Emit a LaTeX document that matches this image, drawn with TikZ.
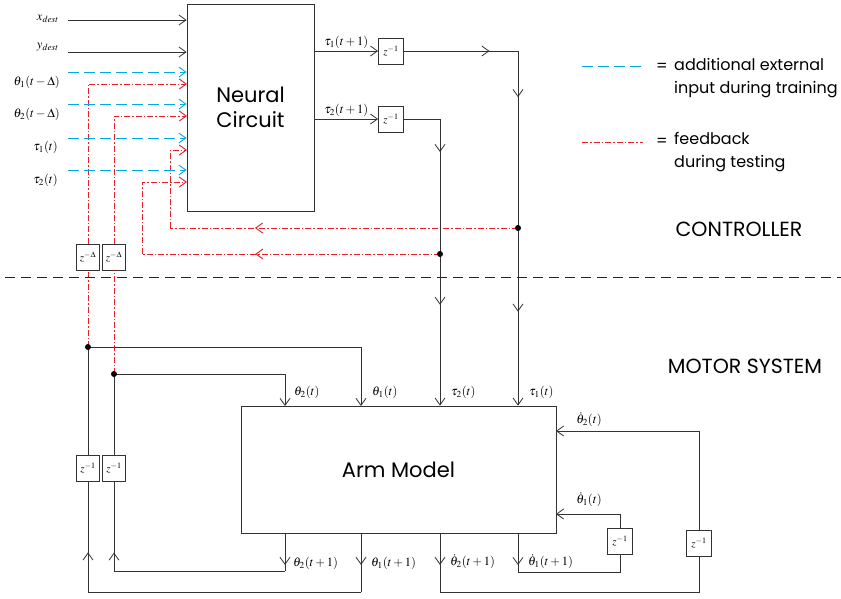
\documentclass[tikz,border=0pt]{standalone}
\usepackage{mathptmx}
\usepackage{fontspec}
\setmainfont{Poppins}
\usetikzlibrary{arrows.meta,decorations.markings}
\definecolor{trainblue}{RGB}{0,170,235}
\definecolor{testred}{RGB}{232,30,40}
\begin{document}
\begin{tikzpicture}[x=1pt,y=-1pt,
  >={Straight Barb[length=7pt,width=10pt]},
  block/.style={draw=black!80,line width=0.8pt,align=center,
    font=\fontsize{21}{25}\selectfont},
  delay/.style={draw=black!80,line width=0.8pt,fill=white,inner sep=0pt,
    minimum width=25pt,minimum height=26pt,font=\fontsize{11}{13}\selectfont},
  flow/.style={draw=black!80,line width=0.8pt},
  train/.style={draw=trainblue,color=trainblue,line width=0.9pt,
    dash pattern=on 11pt off 5pt},
  fb/.style={draw=testred,color=testred,line width=0.9pt,
    dash pattern=on 6pt off 2pt on 1.5pt off 2pt},
  lab/.style={font=\fontsize{12.5}{14}\selectfont,inner sep=1pt},
  legend/.style={font=\fontsize{16}{23}\selectfont,inner sep=2pt},
  region/.style={font=\fontsize{20.5}{24}\selectfont},
  arr at/.style={postaction={decorate,decoration={markings,
    mark=at position #1 with {\arrow{>}}}}}]
\useasboundingbox (0,0) rectangle (841,598);
% blocks
\node[block,minimum width=127pt,minimum height=207pt] (nc) at (250.5,107.5)
  {Neural\\Circuit};
\node[block,minimum width=315pt,minimum height=127pt] (arm) at (398.5,469.5)
  {Arm Model};
% delays
\node[delay] (d1) at (391,51) {$z^{-1}$};
\node[delay] (d2) at (391,119) {$z^{-1}$};
\node[delay,minimum width=23pt] (dA) at (88,257) {$z^{-\Delta}$};
\node[delay,minimum width=23pt] (dB) at (114,257) {$z^{-\Delta}$};
\node[delay,minimum width=23pt] (dC) at (88,468) {$z^{-1}$};
\node[delay,minimum width=23pt] (dD) at (114,468) {$z^{-1}$};
\node[delay] (dE) at (620,541) {$z^{-1}$};
\node[delay] (dF) at (699,543) {$z^{-1}$};
% points
\coordinate (xd) at (68,20);
\coordinate (yd) at (68,52);
\coordinate (fb1) at (187,84);
\coordinate (fb2) at (187,116);
\coordinate (fb3) at (187,150);
\coordinate (fb4) at (187,182);
\coordinate (t1c) at (518,51);
\coordinate (t2c) at (440,119);
\coordinate (dotT1) at (518,228);
\coordinate (dotT2) at (440,254);
\coordinate (fc1) at (170,228);
\coordinate (fc2) at (142,254);
\coordinate (dot1) at (88,347);
\coordinate (dot2) at (114,374);
\coordinate (th2in) at (285,406);
\coordinate (th1in) at (361,406);
\coordinate (th2out) at (285,533);
\coordinate (th1out) at (361,533);
\coordinate (td2out) at (440,533);
\coordinate (td1out) at (518,533);
\coordinate (c2) at (285,571);
\coordinate (c1) at (361,592);
\coordinate (c3) at (440,592);
\coordinate (c4) at (518,572);
\coordinate (td2in) at (556,431);
\coordinate (td1in) at (556,514);
\coordinate (sepL) at (5,277);
\coordinate (sepR) at (841,277);
% feedback during testing
\draw[fb,arr at=0.756] (dotT1) -- (fc1);
\draw[fb,->] (fc1) |- (fb3);
\draw[fb,arr at=0.62] (dotT2) -- (fc2);
\draw[fb,->] (fc2) |- (fb4);
\draw[fb] (dot1) -- (dA);
\draw[fb,->] (dA) |- (fb1);
\draw[fb] (dot2) -- (dB);
\draw[fb,->] (dB) |- (fb2);
% inputs of the neural circuit
\draw[flow,->] (xd) -- (xd -| nc.west);
\draw[flow,->] (yd) -- (yd -| nc.west);
\foreach \yy [count=\i] in {72,104,138,170} {
  \coordinate (tr\i) at (68,\yy);
  \draw[train,->] (tr\i) -- (tr\i -| nc.west);
}
\node[lab,anchor=east] at (60,19) {$x_{dest}$};
\node[lab,anchor=east] at (60,47) {$y_{dest}$};
\node[lab,anchor=east] at (61,82) {$\theta_1(t-\Delta)$};
\node[lab,anchor=east] at (61,114) {$\theta_2(t-\Delta)$};
\node[lab,anchor=east] at (59,147) {$\tau_1(t)$};
\node[lab,anchor=east] at (59,180) {$\tau_2(t)$};
% controller outputs
\draw[flow,->] (nc.east |- d1) -- node[lab,above=1pt] {$\tau_1(t+1)$} (d1);
\draw[flow,->] (nc.east |- d2) -- node[lab,above=1pt] {$\tau_2(t+1)$} (d2);
\draw[flow,arr at=0.75] (d1) -- (t1c);
\draw[flow,->,arr at=0.13,arr at=0.735] (t1c) -- (t1c |- arm.north);
\draw[flow] (d2) -- (t2c);
\draw[flow,->,arr at=0.115,arr at=0.648] (t2c) -- (t2c |- arm.north);
% arm inputs
\draw[flow,->] (dot1) -| (th1in);
\draw[flow,->] (dot2) -| (th2in);
\node[lab,anchor=west] at (293,392) {$\theta_2(t)$};
\node[lab,anchor=west] at (371,392) {$\theta_1(t)$};
\node[lab,anchor=west] at (450,392) {$\tau_2(t)$};
\node[lab,anchor=west] at (528,392) {$\tau_1(t)$};
% arm outputs
\draw[flow,arr at=0.84] (th2out) -- (c2);
\draw[flow,arr at=0.727] (c2) -| (dD);
\draw[flow] (dD) -- (dot2);
\draw[flow,arr at=0.54] (th1out) -- (c1);
\draw[flow,arr at=0.815] (c1) -| (dC);
\draw[flow] (dC) -- (dot1);
\draw[flow,arr at=0.54] (td2out) -- (c3);
\draw[flow] (c3) -| (dF);
\draw[flow,->] (dF) |- (td2in);
\draw[flow,arr at=0.82] (td1out) -- (c4);
\draw[flow] (c4) -| (dE);
\draw[flow,->] (dE) |- (td1in);
\node[lab,anchor=west] at (292,563) {$\theta_2(t+1)$};
\node[lab,anchor=west] at (370,563) {$\theta_1(t+1)$};
\node[lab,anchor=west] at (449,562) {$\dot\theta_2(t+1)$};
\node[lab,anchor=west] at (527,562) {$\dot\theta_1(t+1)$};
\node[lab] at (589,420) {$\dot\theta_2(t)$};
\node[lab] at (589,500) {$\dot\theta_1(t)$};
% branch points
\foreach \p in {dotT1,dotT2,dot1,dot2} \fill (\p) circle (3pt);
% separator
\draw[black!85,line width=0.8pt,dash pattern=on 10pt off 6pt] (sepL) -- (sepR);
\node[region] (ctrl) at (739,229) {CONTROLLER};
\node[region] (motor) at (745,366) {MOTOR SYSTEM};
% legend
\coordinate (lgA) at (582,66);
\coordinate (lgB) at (643,66);
\coordinate (lgC) at (582,142);
\coordinate (lgD) at (643,142);
\draw[train] (lgA) -- (lgB);
\draw[fb] (lgC) -- (lgD);
\node[legend,anchor=west,align=left] (txA) at (672,78)
  {additional external\\input during training};
\node[legend,anchor=west,align=left] (txB) at (672,152)
  {feedback\\during testing};
\node[legend] at (662,67) {=};
\node[legend] at (662,142) {=};
\end{tikzpicture}
\end{document}
